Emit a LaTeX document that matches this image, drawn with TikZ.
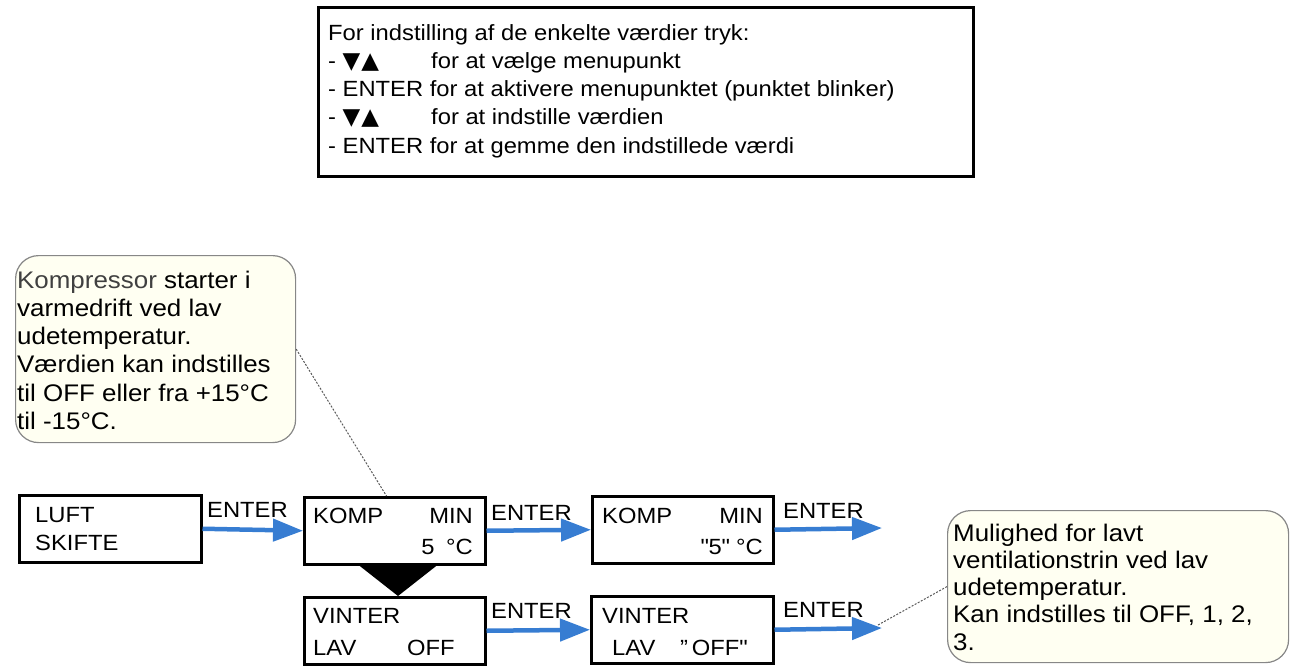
\documentclass[tikz,border=0pt]{standalone}
\usepackage{fontspec}
\setmainfont{Liberation Sans}[FakeStretch=1.08]
\newfontfamily\symfont{DejaVu Sans}
\usetikzlibrary{arrows.meta,calc}
\definecolor{flowblue}{RGB}{55,125,210}
\definecolor{notefill}{RGB}{255,255,242}
\definecolor{noteline}{RGB}{135,135,135}
\newcommand\boxfont{\fontsize{22}{26}\selectfont}
\newcommand\notefont{\fontsize{24}{28}\selectfont}
\newcommand\updown{{\symfont\fontsize{23}{26}\selectfont ▼\kern1pt▲}}
\begin{document}
\begin{tikzpicture}[x=1pt,y=-1pt,
  panel/.style={draw=black,line width=2.5pt,fill=white,anchor=north west,inner sep=0pt},
  disp/.style={draw=black,line width=2.5pt,fill=white,anchor=north west,inner sep=0pt,minimum width=181pt,minimum height=67pt},
  note/.style={draw=noteline,line width=1.2pt,fill=notefill,rounded corners=23pt,anchor=north west,inner sep=0pt},
  txt/.style={inner sep=0pt,anchor=base west,font=\boxfont},
  rtxt/.style={inner sep=0pt,anchor=base east,font=\boxfont},
  ntxt/.style={inner sep=0pt,anchor=base west,font=\notefont},
  flow/.style={draw=flowblue,line width=4.5pt,-{Triangle[length=30pt,width=22pt]}},
  leader/.style={draw=black!65,line width=1pt,dash pattern=on 2pt off 1.5pt}]
\useasboundingbox (0,0) rectangle (1294,665);

% instruction panel
\node[panel,minimum width=655pt,minimum height=169pt] (top) at (317,6) {};
\node[txt] (t1) at (328,40) {For indstilling af de enkelte værdier tryk:};
\node[txt] (t2a) at (328,68.3) {- \updown};
\node[txt] (t2b) at (431,68.3) {for at vælge menupunkt};
\node[txt] (t3) at (328,96.6) {- ENTER for at aktivere menupunktet (punktet blinker)};
\node[txt] (t4a) at (328,124.9) {- \updown};
\node[txt] (t4b) at (431,124.9) {for at indstille værdien};
\node[txt] (t5) at (328,153.2) {- ENTER for at gemme den indstillede værdi};

% callout 1
\node[note,minimum width=280pt,minimum height=187pt] (c1) at (15,255) {};
\node[ntxt] (c1a) at (17,288) {\textcolor{black!75}{Kompressor} starter i};
\node[ntxt] (c1b) at (17,316.3) {varmedrift ved lav};
\node[ntxt] (c1c) at (17,344.6) {udetemperatur.};
\node[ntxt] (c1d) at (17,372.9) {Værdien kan indstilles};
\node[ntxt] (c1e) at (17,401.2) {til OFF eller fra +15°C};
\node[ntxt] (c1f) at (17,429.5) {til -15°C.};

% callout 2
\node[note,minimum width=341pt,minimum height=152pt] (c2) at (947,510) {};
\node[ntxt] (c2a) at (953,541) {Mulighed for lavt};
\node[ntxt] (c2b) at (953,568.3) {ventilationstrin ved lav};
\node[ntxt] (c2c) at (953,595.6) {udetemperatur.};
\node[ntxt] (c2d) at (953,622.9) {Kan indstilles til OFF, 1, 2,};
\node[ntxt] (c2e) at (953,650.2) {3.};

% display boxes
\node[disp,minimum width=182pt] (luft) at (18,494) {};
\node[txt] (luft1) at (35,522) {LUFT};
\node[txt] (luft2) at (35,550) {SKIFTE};

\node[disp] (k1) at (303,496) {};
\node[txt] (k1a) at (313,523) {KOMP};
\node[rtxt] (k1b) at (473,523) {MIN};
\node[rtxt] (k1c) at (473,554) {5\hspace{5pt} °C};

\node[disp] (k2) at (591,495) {};
\node[txt] (k2a) at (602,523) {KOMP};
\node[rtxt] (k2b) at (763,523) {MIN};
\node[rtxt] (k2c) at (763,554) {\textquotedbl 5\textquotedbl\ °C};

\node[disp] (v1) at (303,596) {};
\node[txt] (v1a) at (313,623) {VINTER};
\node[txt] (v1b) at (313,655) {LAV};
\node[txt] (v1c) at (407,655) {OFF};

\node[disp,minimum width=182pt] (v2) at (590,595) {};
\node[txt] (v2a) at (602,623) {VINTER};
\node[txt] (v2b) at (612,655) {LAV};
\node[txt] (v2c) at (680,655) {”\,OFF\textquotedbl};

% black funnel between KOMP and VINTER
\fill[black] (356,563) -- (440,563) -- (398,596) -- cycle;

% free ends
\coordinate (e1) at (882,528);
\coordinate (e2) at (882,628);

% arrows
\draw[flow] (luft.east) -- (k1.west);
\draw[flow] (k1.east) -- (k2.west);
\draw[flow] (k2.east) -- (e1);
\draw[flow] (v1.east) -- (v2.west);
\draw[flow] (v2.east) -- (e2);

% ENTER labels
\node[txt] (en1) at (207,517) {ENTER};
\node[txt] (en2) at (491,520) {ENTER};
\node[txt] (en3) at (783,518) {ENTER};
\node[txt] (en4) at (491,618) {ENTER};
\node[txt] (en5) at (783,617) {ENTER};

% leader lines
\draw[leader] (c1.east) -- ($(k1.north west)!0.455!(k1.north east)$);
\draw[leader] ($(e2)+(-4,-3)$) -- (c2.west);
\end{tikzpicture}
\end{document}
